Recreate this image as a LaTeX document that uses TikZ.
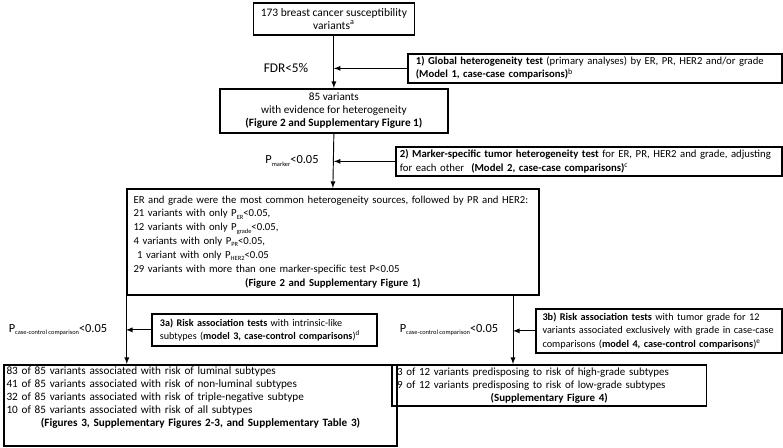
\documentclass[tikz,border=0pt]{standalone}
\usepackage{fontspec}
\setmainfont{Carlito}
\usetikzlibrary{arrows}

\newcommand{\psub}[1]{\raisebox{-0.45ex}{\fontsize{4.8}{5}\selectfont #1}}
\newcommand{\fs}[2]{\fontsize{#1}{#2}\selectfont}

\begin{document}
\begin{tikzpicture}[x=0.75pt,y=-0.75pt]
\tikzstyle{block} = [rectangle, draw=black, line width=1.3pt, anchor=north west,
inner xsep=5pt, inner ysep=1.5pt]
\tikzstyle{block_c} = [block, align=center]
\tikzstyle{block_l} = [block, align=left]
\tikzstyle{cond} = [inner sep=0pt, font=\fs{9.3}{11}]
\tikzstyle{line} = [draw, line width=0.7pt, ->, >=latex];

\useasboundingbox (0,0) rectangle (783,448);

% row 1
\node [block_c, font=\fs{8.6}{10}, minimum width=120.75pt, minimum height=24pt] (variants) at (252.5,2)
{173 breast cancer susceptibility\\variants\textsuperscript{a}};
\node [block_l, font=\fs{8}{9.75}, inner xsep=6pt, text width=268.5pt,
minimum height=21.75pt] (global) at (407,53)
{\textbf{1) Global heterogeneity test} (primary analyses) by ER, PR, HER2 and/or grade\\
\textbf{(Model 1, case-case comparisons)}\textsuperscript{b}};
\node [cond, font=\fs{10}{12}] (fdr) at (286,68) {FDR<5\%};
% row 2
\node [block_c, font=\fs{8.4}{9.75}, minimum width=171pt, minimum height=33pt] (hetero) at (219,88)
{85 variants\\with evidence for heterogeneity\\\textbf{(Figure 2 and Supplementary Figure 1)}};
\node [block_l, font=\fs{8.05}{9.75}, inner xsep=3pt, text width=283.5pt,
minimum height=21.75pt] (marker) at (395,146)
{\textbf{2) Marker-specific tumor heterogeneity test} for ER, PR, HER2 and grade, adjusting\\
for each other~~\textbf{(Model 2, case-case comparisons)}\textsuperscript{c}};
\node [cond] (pmarker) at (292,161) {P\psub{marker}<0.05};
% row 3
\node [block_l, font=\fs{8.05}{10.4}, text width=299pt, minimum height=79.5pt] (sources) at (126,188)
{ER and grade were the most common heterogeneity sources, followed by PR and HER2:\\
21 variants with only P\psub{ER}<0.05,\\
12 variants with only P\psub{grade}<0.05,\\
4 variants with only P\psub{PR}<0.05,\\
\ 1 variant with only P\psub{HER2}<0.05\\
29 variants with more than one marker-specific test P<0.05\\
\makebox[\linewidth]{\textbf{(Figure 2 and Supplementary Figure 1)}}};
% row 4
\node [block_l, font=\fs{7.6}{9.75}, inner xsep=6pt, text width=157pt,
minimum height=24pt] (intrinsic) at (151,313)
{\textbf{3a) Risk association tests} with intrinsic-like\\
subtypes (\textbf{model 3, case-control comparisons})\textsuperscript{d}};
\node [cond] (pcc_l) at (58,330) {P\psub{case-control comparison}<0.05};
\node [block_l, font=\fs{7.7}{10}, inner xsep=5pt, text width=174.5pt,
minimum height=33pt] (tumor) at (535,308)
{\textbf{3b) Risk association tests} with tumor grade for 12\\
variants associated exclusively with grade in case-case\\
comparisons (\textbf{model 4, case-control comparisons})\textsuperscript{e}};
\node [cond] (pcc_r) at (449,330) {P\psub{case-control comparison}<0.05};
% row 5
\node [block_l, font=\fs{8.4}{9.75}, inner xsep=2pt, text width=291pt] (subtypes) at (3,364)
{83 of 85 variants associated with risk of luminal subtypes\\
41 of 85 variants associated with risk of non-luminal subtypes\\
32 of 85 variants associated with risk of triple-negative subtype\\
10 of 85 variants associated with risk of all subtypes\\
\makebox[\linewidth]{\textbf{(Figures 3, Supplementary Figures 2-3, and Supplementary Table 3)}}\rule[-13pt]{0pt}{1pt}};
\node [block_l, font=\fs{8.2}{9.75}, inner xsep=4pt, text width=228pt,
minimum height=30.75pt] (grades) at (391,364)
{3 of 12 variants predisposing to risk of high-grade subtypes\\
9 of 12 variants predisposing to risk of low-grade subtypes\\
\makebox[\linewidth]{\textbf{(Supplementary Figure 4)}}};

\coordinate (rsplit) at (513,300);
\tikzstyle{every path}=[line]
\path (variants.south) -- (hetero.north);
\path (global.west) -- (global.west -| variants.south);
\path (hetero.south) -- (sources.north);
\path (marker.west) -- (marker.west -| hetero.south);
\path ([xshift=0.6pt]sources.south west) -- ([xshift=0.6pt]sources.south west |- subtypes.north);
\path (sources.south -| rsplit) -- (grades.north -| rsplit);
\path (intrinsic.west) -- (intrinsic.west -| sources.south west);
\path (tumor.west) -- (tumor.west -| rsplit);

\end{tikzpicture}
\end{document}
